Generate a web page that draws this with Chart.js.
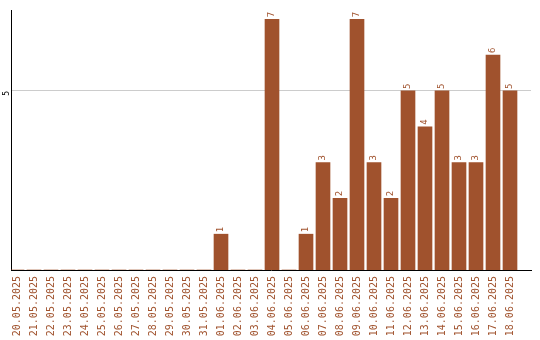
<!DOCTYPE html>
<html>
<head>
<meta charset="utf-8">
<script src="https://cdn.jsdelivr.net/npm/chart.js@4/dist/chart.umd.min.js"></script>
<style>
html,body{margin:0;padding:0;background:#fff;}
#wrap{width:540px;height:340px;position:relative;}
</style>
</head>
<body>
<div id="wrap"><canvas id="c" width="540" height="340"></canvas></div>
<script>
const dates = ["20.05.2025","21.05.2025","22.05.2025","23.05.2025","24.05.2025","25.05.2025","26.05.2025","27.05.2025","28.05.2025","29.05.2025","30.05.2025","31.05.2025","01.06.2025","02.06.2025","03.06.2025","04.06.2025","05.06.2025","06.06.2025","07.06.2025","08.06.2025","09.06.2025","10.06.2025","11.06.2025","12.06.2025","13.06.2025","14.06.2025","15.06.2025","16.06.2025","17.06.2025","18.06.2025"];
const counts = [0,0,0,0,0,0,0,0,0,0,0,0,1,0,0,7,0,1,3,2,7,3,2,5,4,5,3,3,6,5];
const yTicks = [5];

const BROWN = "#A0522D";
const MONO = "'DejaVu Sans Mono', monospace";

const valueLabels = {
  id: 'valueLabels',
  afterDatasetsDraw(chart) {
    const ctx = chart.ctx;
    const meta = chart.getDatasetMeta(0);
    ctx.save();
    ctx.fillStyle = BROWN;
    ctx.font = "9px " + MONO;
    ctx.textAlign = 'left';
    ctx.textBaseline = 'middle';
    meta.data.forEach((bar, i) => {
      const v = counts[i];
      if (!v) return;
      ctx.save();
      ctx.translate(bar.x, bar.y - 2);
      ctx.rotate(-Math.PI / 2);
      ctx.fillText(String(v), 0, 0);
      ctx.restore();
    });
    ctx.restore();
  }
};

new Chart(document.getElementById('c'), {
  type: 'bar',
  data: {
    datasets: [{
      data: counts.map((v, i) => ({ x: i, y: v })),
      backgroundColor: BROWN,
      borderWidth: 0,
      barThickness: 14
    }]
  },
  options: {
    responsive: false,
    animation: false,
    devicePixelRatio: 1,
    layout: { padding: { top: 10, right: 9, left: 0, bottom: 0 } },
    plugins: { legend: { display: false }, tooltip: { enabled: false } },
    scales: {
      x: {
        type: 'linear',
        offset: false,
        min: -6 / 17,
        max: 520 / 17 - 6 / 17,
        afterBuildTicks: s => { s.ticks = dates.map((_, i) => ({ value: i })); },
        afterFit: s => { s.height = 70; },
        grid: { display: false, drawTicks: false, offset: false },
        border: { display: true, color: '#000', width: 1 },
        ticks: {
          autoSkip: false,
          minRotation: 90,
          maxRotation: 90,
          padding: 6,
          color: BROWN,
          font: { family: MONO, size: 10 },
          callback: v => dates[v] ?? ''
        }
      },
      y: {
        min: 0,
        max: 7.26,
        afterBuildTicks: s => { s.ticks = yTicks.map(v => ({ value: v })); },
        afterFit: s => { s.width = 11; },
        grid: { color: '#cccccc', drawTicks: false, lineWidth: 1 },
        border: { display: true, color: '#000', width: 1 },
        ticks: {
          minRotation: 90,
          maxRotation: 90,
          padding: 4,
          color: '#000',
          font: { family: MONO, size: 8 }
        }
      }
    }
  },
  plugins: [valueLabels]
});
</script>
</body>
</html>
